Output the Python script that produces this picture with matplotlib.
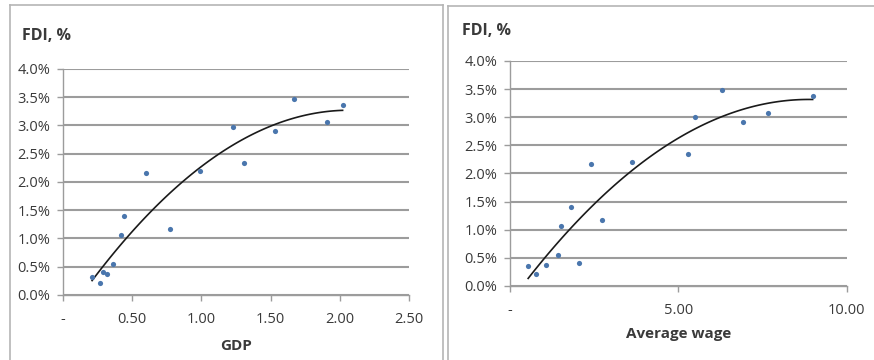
import numpy as np
import matplotlib.pyplot as plt
from matplotlib.lines import Line2D
from matplotlib.ticker import FuncFormatter, MultipleLocator

# ============================
# Data
# ============================
fdi = [0.32, 0.21, 0.40, 0.37, 0.54, 1.06, 1.40, 2.16, 1.16, 2.19,
       2.98, 2.34, 2.90, 3.46, 3.07, 3.36]          # FDI, %
gdp = [0.21, 0.27, 0.29, 0.32, 0.36, 0.42, 0.44, 0.60, 0.77, 0.99,
       1.23, 1.31, 1.53, 1.67, 1.91, 2.02]
fdi_w = [0.35, 0.21, 0.37, 0.55, 1.06, 1.41, 0.40, 2.17, 1.17, 2.20,
         2.34, 3.00, 3.48, 2.92, 3.08, 3.38]
wage = [0.54, 0.77, 1.06, 1.43, 1.53, 1.81, 2.06, 2.42, 2.73, 3.63,
        5.28, 5.51, 6.30, 6.91, 7.65, 8.99]

y_ticks = [0.0, 0.5, 1.0, 1.5, 2.0, 2.5, 3.0, 3.5, 4.0]

plt.rcParams['font.family'] = ['Open Sans', 'DejaVu Sans']

grid_col = '#9c9c9c'
text_col = '#3a3a3a'
dot_col = '#4a76ad'

fig = plt.figure(figsize=(8.74, 3.6), dpi=100)


def x_fmt(v, pos):
    return '-' if abs(v) < 1e-9 else '%.2f' % v


def y_fmt(v, pos):
    return '%.1f%%' % v


def draw_panel(ax, x, y, xmax, xstep, xlabel, lpad):
    ax.set_xlim(0, xmax)
    ax.set_ylim(0, 4.0)
    ax.set_yticks(y_ticks)
    ax.xaxis.set_major_locator(MultipleLocator(xstep))
    ax.xaxis.set_major_formatter(FuncFormatter(x_fmt))
    ax.yaxis.set_major_formatter(FuncFormatter(y_fmt))
    ax.grid(axis='y', color=grid_col, linewidth=1.5)
    ax.set_axisbelow(True)
    for s in ['top', 'right']:
        ax.spines[s].set_visible(False)
    for s in ['left', 'bottom']:
        ax.spines[s].set_color(grid_col)
        ax.spines[s].set_linewidth(1.0)
    ax.tick_params(colors=grid_col, labelcolor=text_col, labelsize=10.5,
                   length=4, width=1.0)
    ax.tick_params(axis='y', pad=5)
    ax.tick_params(axis='x', pad=8)

    # polynomial (order 2) trendline like Excel's
    coef = np.polyfit(x, y, 2)
    xs = np.linspace(min(x), max(x), 100)
    ax.plot(xs, np.polyval(coef, xs), color='#1a1a1a', linewidth=1.2,
            zorder=2)
    ax.scatter(x, y, s=14, color=dot_col, zorder=3, linewidths=0)

    ax.set_xlabel(xlabel, fontsize=11, fontweight='bold', color=text_col,
                  labelpad=lpad)


ax1 = fig.add_axes([0.0721, 0.1806, 0.3959, 0.6278])
draw_panel(ax1, gdp, fdi, 2.5, 0.5, 'GDP', 9)

ax2 = fig.add_axes([0.5835, 0.2056, 0.3852, 0.6250])
draw_panel(ax2, wage, fdi_w, 10.0, 5.0, 'Average wage', 7)

fig.text(22 / 874, 1 - 36 / 360, 'FDI, %', fontsize=11.5, fontweight='bold',
         color=text_col, va='center', ha='left')
fig.text(462 / 874, 1 - 31 / 360, 'FDI, %', fontsize=11.5, fontweight='bold',
         color=text_col, va='center', ha='left')

# panel borders
border = '#b5b5b5'
def fline(x0, y0, x1, y1):
    fig.add_artist(Line2D([x0 / 874, x1 / 874], [1 - y0 / 360, 1 - y1 / 360],
                          color=border, linewidth=1.2))

fline(10, 5, 443, 5)
fline(10, 5, 10, 360)
fline(443, 5, 443, 360)
fline(448, 6, 874, 6)
fline(448, 6, 448, 360)

fig.savefig('out.png', dpi=100, facecolor='white')
